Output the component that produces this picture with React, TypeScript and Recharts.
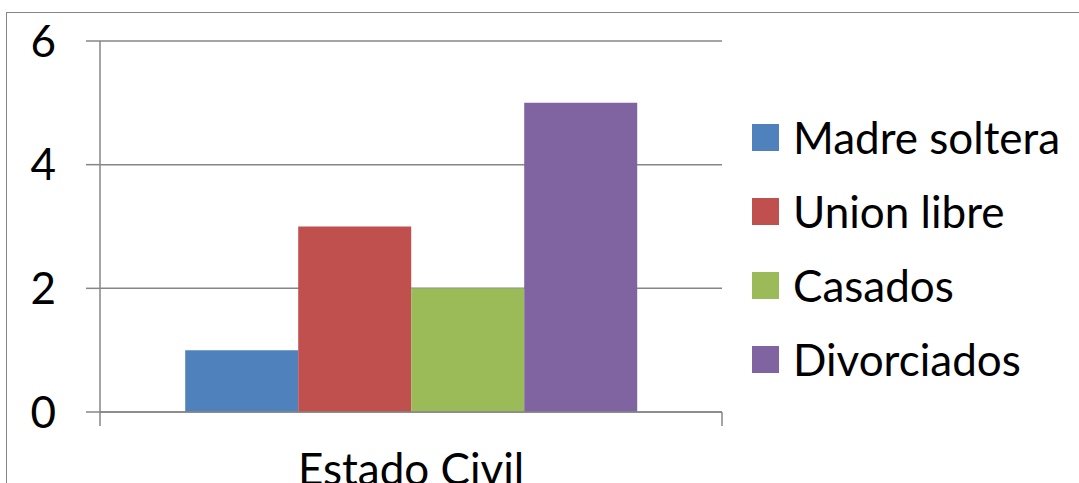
import { BarChart, Bar, XAxis, YAxis, CartesianGrid, Legend } from 'recharts';

const categories = ['Estado Civil'];
const seriesNames = ['Madre soltera', 'Union libre', 'Casados', 'Divorciados'];
const seriesValues = [1, 3, 2, 5];
const yTicks = [0, 2, 4, 6];

const COLORS = ['#4F81BD', '#C0504D', '#9BBB59', '#8064A2'];
const GRID = '#868686';
const FONT = 'Lato, "Liberation Sans", sans-serif';

const data = categories.map((c) => ({
  name: c,
  ...Object.fromEntries(seriesNames.map((s, i) => [s, seriesValues[i]])),
}));

function CategoryTick(props: any) {
  const { x, y, payload } = props;
  const half = payload?.offset ?? 311;
  return (
    <g>
      <line x1={x - half} y1={y} x2={x - half} y2={y + 14} stroke={GRID} strokeWidth={1.5} />
      <line x1={x + half} y1={y} x2={x + half} y2={y + 14} stroke={GRID} strokeWidth={1.5} />
      <text x={x} y={y + 42} dy="0.71em" textAnchor="middle" fill="#000" fontSize={44} fontFamily={FONT}>
        {payload.value}
      </text>
    </g>
  );
}

function LegendBox() {
  return (
    <div style={{ width: 357, paddingLeft: 30, boxSizing: 'border-box', fontFamily: FONT }}>
      {seriesNames.map((s, i) => (
        <div key={s} style={{ height: 74, display: 'flex', alignItems: 'center' }}>
          <span style={{ width: 27, height: 27, background: COLORS[i], display: 'inline-block', marginRight: 14 }} />
          <span style={{ fontSize: 44, color: '#000', lineHeight: 1 }}>{s}</span>
        </div>
      ))}
    </div>
  );
}

export default function App() {
  return (
    <div style={{ position: 'absolute', left: 0, top: 0, width: 1079, height: 483, overflow: 'hidden', background: '#fff' }}>
      <div style={{ position: 'absolute', left: 6, top: 12, width: 2000, height: 2000, border: `1.5px solid ${GRID}` }} />
      <div style={{ position: 'absolute', left: 0, top: 0 }}>
        <BarChart
          width={1079}
          height={483}
          data={data}
          margin={{ top: 41, right: 0, bottom: 0, left: 0 }}
          barCategoryGap="13.7%"
          barGap={0}
        >
          <CartesianGrid vertical={false} stroke={GRID} strokeWidth={1.5} />
          <XAxis
            dataKey="name"
            height={71}
            axisLine={{ stroke: GRID, strokeWidth: 1.5 }}
            tickLine={false}
            tickSize={0}
            tickMargin={0}
            tick={<CategoryTick />}
          />
          <YAxis
            width={100}
            domain={[0, 6]}
            ticks={yTicks}
            interval={0}
            axisLine={{ stroke: GRID, strokeWidth: 1.5 }}
            tickLine={{ stroke: GRID, strokeWidth: 1.5 }}
            tickSize={14}
            tickMargin={30}
            tick={{ fill: '#000', fontSize: 44, fontFamily: FONT }}
          />
          <Legend
            layout="vertical"
            align="right"
            verticalAlign="middle"
            content={() => <LegendBox />}
            wrapperStyle={{ top: 100, right: 0 }}
          />
          {seriesNames.map((s, i) => (
            <Bar key={s} dataKey={s} fill={COLORS[i]} isAnimationActive={false} />
          ))}
        </BarChart>
      </div>
    </div>
  );
}
